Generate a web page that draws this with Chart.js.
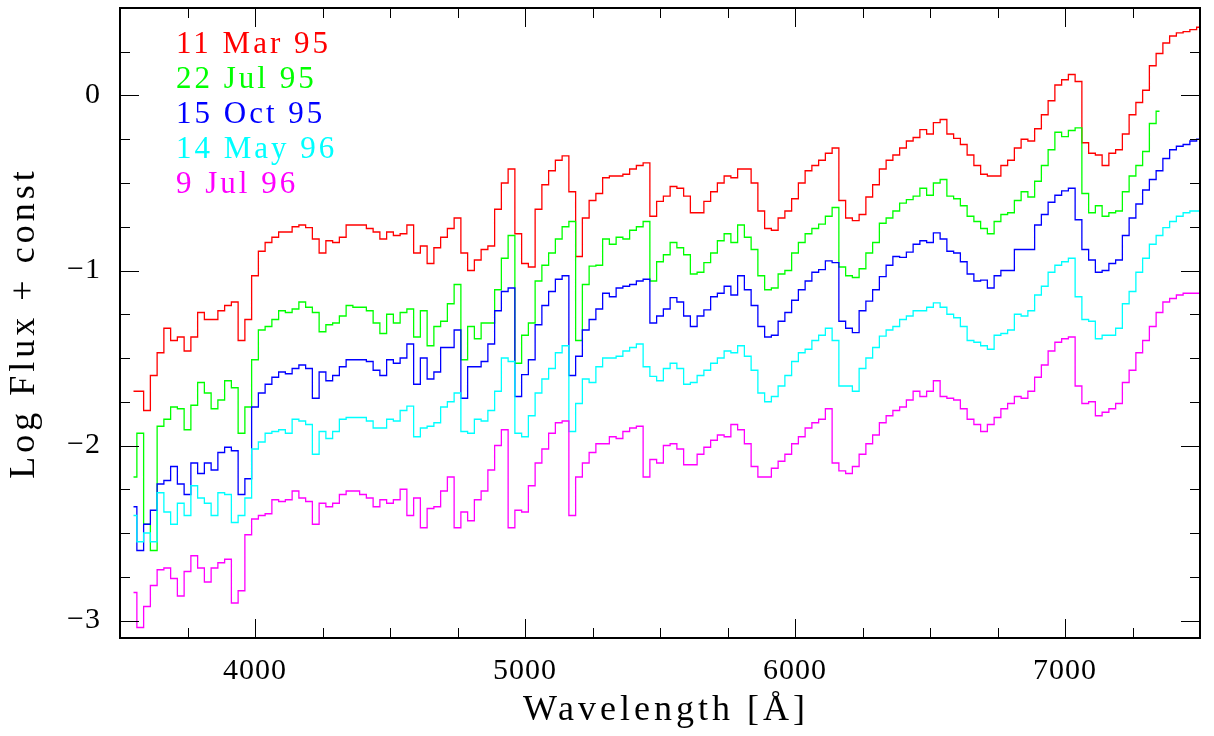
<!DOCTYPE html>
<html>
<head>
<meta charset="utf-8">
<title>Spectra</title>
<script src="https://cdn.jsdelivr.net/npm/chart.js@4.4.1/dist/chart.umd.min.js"></script>
<style>
  html, body { margin: 0; padding: 0; background: #fff; }
  #chart { display: block; }
</style>
</head>
<body>
<canvas id="chart" width="1214" height="736"></canvas>
<script>
// wavelength grid [Å], one bin every 25 Å
const wavelength = [
  3550, 3575, 3600, 3625, 3650, 3675, 3700, 3725, 3750, 3775, 3800, 3825, 3850, 3875, 3900, 3925, 3950, 3975,
  4000, 4025, 4050, 4075, 4100, 4125, 4150, 4175, 4200, 4225, 4250, 4275, 4300, 4325, 4350, 4375, 4400, 4425, 4450, 4475,
  4500, 4525, 4550, 4575, 4600, 4625, 4650, 4675, 4700, 4725, 4750, 4775, 4800, 4825, 4850, 4875, 4900, 4925, 4950, 4975,
  5000, 5025, 5050, 5075, 5100, 5125, 5150, 5175, 5200, 5225, 5250, 5275, 5300, 5325, 5350, 5375, 5400, 5425, 5450, 5475,
  5500, 5525, 5550, 5575, 5600, 5625, 5650, 5675, 5700, 5725, 5750, 5775, 5800, 5825, 5850, 5875, 5900, 5925, 5950, 5975,
  6000, 6025, 6050, 6075, 6100, 6125, 6150, 6175, 6200, 6225, 6250, 6275, 6300, 6325, 6350, 6375, 6400, 6425, 6450, 6475,
  6500, 6525, 6550, 6575, 6600, 6625, 6650, 6675, 6700, 6725, 6750, 6775, 6800, 6825, 6850, 6875, 6900, 6925, 6950, 6975,
  7000, 7025, 7050, 7075, 7100, 7125, 7150, 7175, 7200, 7225, 7250, 7275, 7300, 7325, 7350, 7375, 7400, 7425, 7450, 7475,
  7500
];

const mar95 = [
  -1.69, -1.69, -1.80, -1.60, -1.47, -1.33, -1.40, -1.38, -1.46, -1.38, -1.24, -1.28, -1.28, -1.23, -1.20, -1.18, -1.40, -1.28,
  -1.03, -0.89, -0.84, -0.81, -0.78, -0.78, -0.75, -0.74, -0.755, -0.82, -0.90, -0.83, -0.84, -0.81, -0.74, -0.74, -0.74, -0.76, -0.78, -0.82,
  -0.78, -0.80, -0.79, -0.74, -0.90, -0.86, -0.96, -0.87, -0.81, -0.76, -0.70, -0.90, -1.00, -0.94, -0.88, -0.86, -0.65, -0.50, -0.42, -0.79,
  -0.96, -0.98, -0.65, -0.51, -0.43, -0.37, -0.345, -0.55, -0.92, -0.70, -0.60, -0.56, -0.47, -0.46, -0.46, -0.45, -0.42, -0.40, -0.385, -0.69,
  -0.605, -0.575, -0.52, -0.53, -0.575, -0.67, -0.67, -0.605, -0.55, -0.50, -0.46, -0.47, -0.42, -0.42, -0.50, -0.66, -0.76, -0.77, -0.70, -0.66,
  -0.59, -0.50, -0.43, -0.40, -0.37, -0.33, -0.30, -0.60, -0.70, -0.715, -0.68, -0.58, -0.51, -0.42, -0.37, -0.34, -0.30, -0.26, -0.24, -0.195,
  -0.22, -0.155, -0.137, -0.22, -0.245, -0.28, -0.34, -0.40, -0.45, -0.46, -0.46, -0.40, -0.37, -0.30, -0.25, -0.26, -0.19, -0.11, -0.03, 0.06,
  0.09, 0.12, 0.08, -0.27, -0.33, -0.34, -0.40, -0.33, -0.31, -0.22, -0.11, -0.04, 0.03, 0.17, 0.24, 0.30, 0.34, 0.358, 0.365, 0.377,
  0.39
];

const jul95 = [
  -2.18, -1.93, -2.45, -2.60, -1.89, -1.85, -1.78, -1.79, -1.91, -1.77, -1.64, -1.70, -1.79, -1.74, -1.63, -1.67, -1.93, -1.78,
  -1.51, -1.34, -1.32, -1.28, -1.23, -1.24, -1.22, -1.18, -1.21, -1.24, -1.35, -1.31, -1.30, -1.26, -1.20, -1.21, -1.21, -1.23, -1.30, -1.36,
  -1.25, -1.30, -1.24, -1.22, -1.38, -1.23, -1.43, -1.32, -1.29, -1.19, -1.08, -1.51, -1.32, -1.39, -1.30, -1.30, -1.11, -0.93, -0.80, -1.53,
  -1.37, -1.30, -1.06, -0.97, -0.90, -0.82, -0.75, -0.72, -1.40, -1.08, -0.975, -0.97, -0.82, -0.85, -0.81, -0.82, -0.77, -0.75, -0.72, -1.06,
  -0.95, -0.91, -0.84, -0.87, -0.91, -1.02, -1.01, -0.955, -0.90, -0.83, -0.79, -0.84, -0.74, -0.81, -0.88, -1.03, -1.11, -1.10, -1.02, -1.00,
  -0.90, -0.84, -0.79, -0.76, -0.735, -0.69, -0.64, -0.98, -1.03, -1.04, -0.99, -0.90, -0.84, -0.73, -0.70, -0.66, -0.615, -0.595, -0.575, -0.53,
  -0.57, -0.50, -0.48, -0.575, -0.59, -0.63, -0.69, -0.72, -0.76, -0.79, -0.72, -0.68, -0.67, -0.60, -0.55, -0.58, -0.49, -0.40, -0.31, -0.21,
  -0.235, -0.20, -0.185, -0.56, -0.67, -0.63, -0.69, -0.67, -0.66, -0.55, -0.46, -0.40, -0.32, -0.16, -0.09, null, null, null, null, null,
  null
];

const oct95 = [
  -2.35, -2.60, -2.45, -2.37, -2.22, -2.20, -2.12, -2.22, -2.28, -2.10, -2.16, -2.10, -2.14, -2.04, -2.01, -2.03, -2.28, -2.19,
  -1.78, -1.70, -1.65, -1.61, -1.58, -1.59, -1.56, -1.54, -1.56, -1.73, -1.58, -1.63, -1.60, -1.55, -1.51, -1.51, -1.51, -1.52, -1.57, -1.60,
  -1.51, -1.53, -1.50, -1.42, -1.65, -1.50, -1.62, -1.58, -1.44, -1.44, -1.34, -1.73, -1.55, -1.55, -1.52, -1.42, -1.23, -1.12, -1.10, -1.72,
  -1.595, -1.51, -1.31, -1.20, -1.12, -1.05, -1.03, -1.60, -1.49, -1.34, -1.28, -1.22, -1.13, -1.15, -1.10, -1.09, -1.08, -1.06, -1.05, -1.30,
  -1.26, -1.22, -1.155, -1.18, -1.26, -1.32, -1.26, -1.225, -1.15, -1.13, -1.09, -1.14, -1.03, -1.11, -1.20, -1.32, -1.38, -1.37, -1.29, -1.24,
  -1.17, -1.11, -1.06, -1.01, -0.995, -0.945, -0.955, -1.29, -1.33, -1.355, -1.23, -1.175, -1.11, -1.035, -0.97, -0.92, -0.925, -0.895, -0.85, -0.83,
  -0.84, -0.785, -0.82, -0.89, -0.90, -0.95, -1.02, -1.06, -1.055, -1.10, -1.03, -1.00, -1.00, -0.88, -0.88, -0.88, -0.74, -0.68, -0.61, -0.57,
  -0.545, -0.53, -0.71, -0.88, -0.94, -1.01, -1.00, -0.96, -0.94, -0.80, -0.70, -0.62, -0.54, -0.48, -0.43, -0.36, -0.31, -0.29, -0.28, -0.26,
  -0.25
];

const may96 = [
  -2.40, -2.55, -2.50, -2.55, -2.27, -2.38, -2.45, -2.33, -2.40, -2.23, -2.30, -2.33, -2.40, -2.27, -2.28, -2.44, -2.40, -2.30,
  -2.02, -1.98, -1.93, -1.92, -1.91, -1.93, -1.85, -1.86, -1.88, -2.05, -1.92, -1.96, -1.92, -1.85, -1.84, -1.84, -1.84, -1.86, -1.90, -1.90,
  -1.85, -1.86, -1.80, -1.775, -1.95, -1.90, -1.89, -1.87, -1.78, -1.75, -1.70, -1.92, -1.93, -1.85, -1.86, -1.80, -1.69, -1.50, -1.52, -1.93,
  -1.95, -1.83, -1.70, -1.62, -1.56, -1.47, -1.43, -1.92, -1.76, -1.62, -1.64, -1.55, -1.50, -1.50, -1.49, -1.46, -1.44, -1.42, -1.55, -1.605,
  -1.63, -1.56, -1.53, -1.56, -1.65, -1.64, -1.60, -1.57, -1.53, -1.50, -1.46, -1.47, -1.43, -1.49, -1.57, -1.70, -1.75, -1.72, -1.66, -1.60,
  -1.52, -1.47, -1.45, -1.40, -1.37, -1.33, -1.40, -1.66, -1.66, -1.69, -1.56, -1.50, -1.44, -1.375, -1.34, -1.32, -1.28, -1.26, -1.23, -1.23,
  -1.21, -1.185, -1.21, -1.25, -1.27, -1.32, -1.40, -1.41, -1.43, -1.45, -1.37, -1.36, -1.34, -1.25, -1.26, -1.23, -1.14, -1.09, -1.01, -0.97,
  -0.95, -0.93, -1.15, -1.28, -1.29, -1.39, -1.37, -1.37, -1.33, -1.19, -1.12, -1.01, -0.93, -0.85, -0.80, -0.755, -0.72, -0.69, -0.67, -0.66,
  -0.66
];

const jul96 = [
  -2.84, -3.04, -2.92, -2.80, -2.71, -2.70, -2.76, -2.86, -2.72, -2.63, -2.70, -2.78, -2.70, -2.67, -2.65, -2.90, -2.83, -2.51,
  -2.42, -2.40, -2.39, -2.31, -2.32, -2.31, -2.26, -2.30, -2.32, -2.45, -2.33, -2.35, -2.33, -2.28, -2.26, -2.26, -2.28, -2.30, -2.35, -2.31,
  -2.33, -2.31, -2.25, -2.40, -2.30, -2.47, -2.36, -2.35, -2.26, -2.18, -2.47, -2.38, -2.43, -2.31, -2.26, -2.14, -2.00, -1.91, -2.47, -2.37,
  -2.38, -2.23, -2.10, -2.02, -1.93, -1.87, -1.86, -2.40, -2.18, -2.10, -2.04, -1.99, -1.99, -1.95, -1.96, -1.92, -1.90, -1.89, -2.18, -2.08,
  -2.10, -2.00, -1.99, -2.02, -2.11, -2.11, -2.05, -2.01, -1.97, -1.94, -1.95, -1.88, -1.91, -1.99, -2.12, -2.18, -2.18, -2.13, -2.09, -2.05,
  -1.99, -1.95, -1.90, -1.87, -1.85, -1.79, -2.10, -2.145, -2.16, -2.12, -2.05, -1.99, -1.94, -1.87, -1.83, -1.80, -1.78, -1.74, -1.69, -1.72,
  -1.69, -1.63, -1.72, -1.73, -1.74, -1.79, -1.85, -1.88, -1.92, -1.88, -1.84, -1.79, -1.76, -1.72, -1.73, -1.69, -1.61, -1.54, -1.46, -1.41,
  -1.39, -1.38, -1.66, -1.76, -1.75, -1.83, -1.81, -1.79, -1.76, -1.64, -1.57, -1.47, -1.40, -1.32, -1.24, -1.18, -1.16, -1.14, -1.13, -1.13,
  -1.13
];

const seriesLabels = ['11 Mar 95', '22 Jul 95', '15 Oct 95', '14 May 96', '9 Jul 96'];
const seriesValues = [mar95, jul95, oct95, may96, jul96];
const seriesColors = ['#ff0000', '#00ff00', '#0000ff', '#00ffff', '#ff00ff'];

const xTicks = [4000, 5000, 6000, 7000];
const yTicks = [-3, -2, -1, 0];
const xTitle = 'Wavelength [Å]';
const yTitle = 'Log Flux + const';

const FONT = '"Liberation Serif", "DejaVu Serif", serif';

// PGPLOT-style box: frame plus inward ticks on all four sides
const frameBox = {
  id: 'frameBox',
  beforeDraw(chart) {
    chart.ctx.letterSpacing = '1px';
  },
  afterDraw(chart) {
    const { ctx, chartArea: a, scales: { x, y } } = chart;
    ctx.save();
    ctx.letterSpacing = '0px';
    ctx.strokeStyle = '#000';
    ctx.lineWidth = 1;
    ctx.beginPath();
    for (let w = 3750; w < 7500; w += 250) {
      const px = Math.round(x.getPixelForValue(w)) + 0.5;
      const len = w % 1000 === 0 ? 19 : 10;
      ctx.moveTo(px, a.bottom); ctx.lineTo(px, a.bottom - len);
      ctx.moveTo(px, a.top); ctx.lineTo(px, a.top + len);
    }
    for (let k = -12; k <= 1; k++) {
      const v = k / 4;
      const py = Math.round(y.getPixelForValue(v)) + 0.5;
      const len = k % 4 === 0 ? 19 : 10;
      ctx.moveTo(a.left, py); ctx.lineTo(a.left + len, py);
      ctx.moveTo(a.right, py); ctx.lineTo(a.right - len, py);
    }
    ctx.stroke();
    ctx.lineWidth = 2;
    ctx.strokeRect(a.left, a.top, a.right - a.left, a.bottom - a.top);

    // axis titles
    ctx.fillStyle = '#000';
    ctx.font = '36px ' + FONT;
    ctx.letterSpacing = '4px';
    ctx.textAlign = 'center';
    ctx.textBaseline = 'middle';
    ctx.fillText(xTitle, (a.left + a.right) / 2 + 6, 711);
    ctx.save();
    ctx.translate(25, (a.top + a.bottom) / 2);
    ctx.rotate(-Math.PI / 2);
    ctx.fillText(yTitle, 0, 0);
    ctx.restore();

    // legend: coloured labels in the upper left
    ctx.font = '31px ' + FONT;
    ctx.letterSpacing = '3px';
    ctx.textAlign = 'left';
    ctx.textBaseline = 'alphabetic';
    chart.data.datasets.forEach((ds, i) => {
      ctx.fillStyle = ds.borderColor;
      ctx.fillText(ds.label, 176, 53 + i * 35);
    });
    ctx.restore();
  }
};

const datasets = seriesLabels.map((label, i) => ({
  label,
  data: wavelength
    .map((w, j) => ({ x: w, y: seriesValues[i][j] }))
    .filter(p => p.y !== null),
  borderColor: seriesColors[i],
  borderWidth: 1.3,
  stepped: 'middle',
  pointRadius: 0,
  fill: false,
  order: seriesLabels.length - i
}));

// keep the plot box where it is: no extra room for end labels
const noEdgePadding = s => {
  s.paddingTop = 0;
  s.paddingBottom = 0;
  s.paddingLeft = 0;
  s.paddingRight = 0;
};

new Chart(document.getElementById('chart'), {
  type: 'line',
  data: { datasets },
  options: {
    responsive: false,
    animation: false,
    devicePixelRatio: 1,
    layout: { padding: { top: 8, right: 14, left: 0, bottom: 0 } },
    plugins: { legend: { display: false }, tooltip: { enabled: false } },
    scales: {
      x: {
        type: 'linear',
        min: 3500,
        max: 7500,
        grid: { display: false, drawTicks: false },
        border: { display: false },
        afterBuildTicks: s => { s.ticks = xTicks.map(value => ({ value })); },
        afterFit: s => { s.height = 98; noEdgePadding(s); },
        ticks: {
          color: '#000',
          padding: 15,
          maxRotation: 0,
          font: { family: FONT, size: 30 },
          callback: v => String(v)
        }
      },
      y: {
        type: 'linear',
        min: -3.1,
        max: 0.5,
        grid: { display: false, drawTicks: false },
        border: { display: false },
        afterBuildTicks: s => { s.ticks = yTicks.map(value => ({ value })); },
        afterFit: s => { s.width = 120; noEdgePadding(s); },
        ticks: {
          color: '#000',
          padding: 19,
          font: { family: FONT, size: 30 },
          callback: v => (v < 0 ? '\u2212' + Math.abs(v) : String(v))
        }
      }
    }
  },
  plugins: [frameBox]
});
</script>
</body>
</html>
